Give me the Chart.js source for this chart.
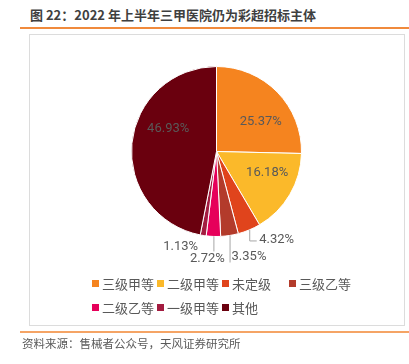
<!DOCTYPE html>
<html>
<head>
<meta charset="utf-8">
<script src="https://cdn.jsdelivr.net/npm/chart.js@4/dist/chart.umd.min.js"></script>
<style>
  body { margin: 0; width: 409px; height: 364px; background: #fff; position: relative; overflow: hidden; font-family: "Noto Sans CJK SC", sans-serif; }
  #title { position: absolute; left: 30px; top: 5px; font-size: 13px; font-weight: bold; color: #3F3F3F; white-space: nowrap; }
  #topLine { position: absolute; left: 20px; top: 27px; width: 389px; height: 2px; background: #F08A3C; }
  #box { position: absolute; left: 29px; top: 34px; width: 376px; height: 292px; border: 1px solid #DCDCDC; box-sizing: border-box; }
  #chartWrap { position: absolute; left: 0; top: 0; width: 409px; height: 364px; }
  #legend { position: absolute; left: 92px; top: 274px; display: grid; grid-template-columns: 65px 65px 67px 70px; row-gap: 6px; font-size: 13px; color: #595959; }
  .item { display: flex; align-items: center; white-space: nowrap; height: 18px; }
  .swatch { width: 7px; height: 7px; margin-right: 3px; }
  #bottomLine { position: absolute; left: 20px; top: 331px; width: 389px; height: 2px; background: #F5A465; }
  #source { position: absolute; left: 22px; top: 335px; font-size: 11.5px; color: #595959; white-space: nowrap; }
</style>
</head>
<body>
<div id="title">图 22：2022 年上半年三甲医院仍为彩超招标主体</div>
<div id="topLine"></div>
<div id="box"></div>
<div id="chartWrap"><canvas id="pieChart"></canvas></div>
<div id="legend"></div>
<div id="bottomLine"></div>
<div id="source">资料来源：售械者公众号，天风证券研究所</div>
<script>
  // Hospital grade share of ultrasound tenders, H1 2022 (%)
  const categories = ["三级甲等", "二级甲等", "未定级", "三级乙等", "二级乙等", "一级甲等", "其他"];
  const shares = [25.37, 16.18, 4.32, 3.35, 2.72, 1.13, 46.93];
  const sliceColors = ["#F5841F", "#FBB92A", "#E0441C", "#B33B2B", "#E6005A", "#A31C40", "#6A000E"];

  // legend (grid, 4 per row)
  const legend = document.getElementById("legend");
  categories.forEach((name, i) => {
    const item = document.createElement("div");
    item.className = "item";
    item.innerHTML = `<span class="swatch" style="background:${sliceColors[i]}"></span>${name}`;
    legend.appendChild(item);
  });

  // draws percentage labels and leader lines
  const sliceLabels = {
    id: "sliceLabels",
    afterDatasetsDraw(chart, args, opts) {
      const ctx = chart.ctx;
      const meta = chart.getDatasetMeta(0);
      ctx.save();
      ctx.font = opts.font;
      ctx.fillStyle = opts.color;
      ctx.strokeStyle = opts.lineColor;
      ctx.lineWidth = 1;
      ctx.textBaseline = "middle";
      meta.data.forEach((arc, i) => {
        const p = arc.getProps(["x", "y", "startAngle", "endAngle", "outerRadius"], true);
        const mid = (p.startAngle + p.endAngle) / 2;
        const text = shares[i].toFixed(2) + "%";
        const spec = opts.specs[i];
        if (spec.inside) {
          const r = p.outerRadius * 0.63;
          ctx.textAlign = "center";
          ctx.fillText(text, p.x + Math.cos(mid) * r + spec.dx, p.y + Math.sin(mid) * r + spec.dy);
          return;
        }
        const ax = p.x + Math.cos(mid) * p.outerRadius;
        const ay = p.y + Math.sin(mid) * p.outerRadius;
        if (spec.drop) {
          ctx.beginPath();
          ctx.moveTo(ax + 0.5, ay);
          ctx.lineTo(ax + 0.5, ay + spec.drop);
          if (spec.hook) ctx.lineTo(ax + 0.5 + spec.hook, ay + spec.drop);
          ctx.stroke();
        }
        ctx.textAlign = spec.align;
        ctx.fillText(text, ax + spec.dx, ay + spec.dy);
      });
      ctx.restore();
    },
  };

  new Chart(document.getElementById("pieChart"), {
    type: "pie",
    data: {
      labels: categories,
      datasets: [
        {
          data: shares,
          backgroundColor: sliceColors,
          borderColor: "#ffffff",
          borderWidth: 1,
        },
      ],
    },
    options: {
      responsive: true,
      maintainAspectRatio: false,
      animation: false,
      layout: { padding: { left: 131, right: 107, top: 66, bottom: 127 } },
      plugins: {
        legend: { display: false },
        tooltip: { enabled: false },
        sliceLabels: {
          font: "13px Roboto",
          color: "#595959",
          lineColor: "#A6A6A6",
          specs: [
            { inside: true, dx: 6, dy: 8 },
            { inside: true, dx: 4.5, dy: -6 },
            { drop: 11, hook: 7, align: "left", dx: 10, dy: 10 },
            { drop: 27, align: "left", dx: 2, dy: 21 },
            { drop: 15, align: "center", dx: -6, dy: 22.5 },
            { align: "center", dx: -22.5, dy: 11.5 },
            { inside: true, dx: 5, dy: -18 },
          ],
        },
      },
    },
    plugins: [sliceLabels],
  });
</script>
</body>
</html>
